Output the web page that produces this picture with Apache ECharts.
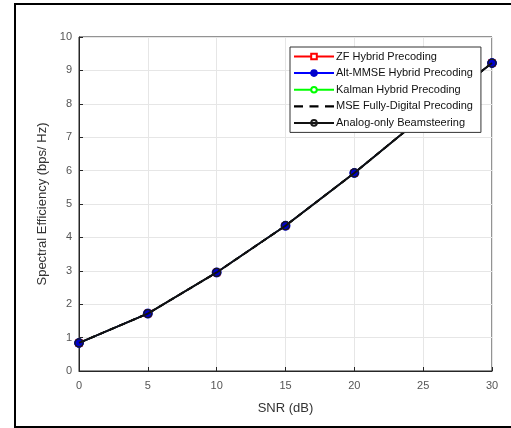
<!DOCTYPE html>
<html><head><meta charset="utf-8">
<script src="https://cdn.jsdelivr.net/npm/echarts@6/dist/echarts.min.js"></script>
<style>html,body{margin:0;padding:0;background:#fff}#c{width:511px;height:428px}</style>
</head><body><div id="c"></div>
<script>
const snr = [0, 5, 10, 15, 20, 25, 30];
const zfHybrid = [0.84, 1.72, 2.95, 4.35, 5.93, 7.62, 9.22];
const altMmseHybrid = [0.84, 1.72, 2.95, 4.35, 5.93, 7.62, 9.22];
const kalmanHybrid = [0.84, 1.72, 2.95, 4.35, 5.93, 7.62, 9.22];
const mseFullyDigital = [0.84, 1.72, 2.95, 4.35, 5.93, 7.62, 9.22];
const analogOnly = [0.84, 1.72, 2.95, 4.35, 5.93, 7.62, 9.22];
const xTicks = [0, 5, 10, 15, 20, 25, 30];
const yTicks = [0, 1, 2, 3, 4, 5, 6, 7, 8, 9, 10];

const pair = arr => snr.map((x, i) => [x, arr[i]]);
const font = 'Liberation Sans, Arial, sans-serif';
const axisCol = '#262626';
const chart = echarts.init(document.getElementById('c'));
chart.setOption({
  animation: false,
  backgroundColor: '#fff',
  graphic: [{
    type: 'rect', shape: {x: 15, y: 4, width: 520, height: 423},
    style: {fill: 'none', stroke: '#000', lineWidth: 2}, z: 100
  }],
  grid: {left: 79, right: 19, top: 37, bottom: 57, show: true, borderColor: axisCol, borderWidth: 1},
  xAxis: {
    type: 'value', min: 0, max: 30, interval: 5,
    name: 'SNR (dB)', nameLocation: 'middle', nameGap: 31,
    nameTextStyle: {fontFamily: font, fontSize: 13, color: '#333'},
    axisLine: {lineStyle: {color: axisCol}},
    axisTick: {inside: true, length: 4, lineStyle: {color: axisCol}},
    axisLabel: {fontFamily: font, fontSize: 11, color: '#555', margin: 9,
      formatter: v => xTicks.includes(v) ? String(v) : ''},
    splitLine: {show: true, lineStyle: {color: '#e6e6e6'}}
  },
  yAxis: {
    type: 'value', min: 0, max: 10, interval: 1,
    name: 'Spectral Efficiency (bps/ Hz)', nameLocation: 'middle', nameGap: 20,
    nameTextStyle: {fontFamily: font, fontSize: 13, color: '#333'},
    axisLine: {show: true, lineStyle: {color: axisCol}},
    axisTick: {show: true, inside: true, length: 4, lineStyle: {color: axisCol}},
    axisLabel: {fontFamily: font, fontSize: 11, color: '#555', margin: 7,
      formatter: v => yTicks.includes(v) ? String(v) : ''},
    splitLine: {show: true, lineStyle: {color: '#e6e6e6'}}
  },
  legend: {
    orient: 'vertical', left: 290, top: 47, z: 20,
    backgroundColor: '#fff', borderColor: '#333', borderWidth: 1,
    padding: [4, 8, 4, 3], itemGap: 5.6, itemWidth: 40, itemHeight: 7,
    textStyle: {fontFamily: font, fontSize: 11, color: '#111', padding: [0, 0, 0, -3]},
    data: ['ZF Hybrid Precoding', 'Alt-MMSE Hybrid Precoding', 'Kalman Hybrid Precoding',
           {name: 'MSE Fully-Digital Precoding',
            icon: 'path://M0,2.5h9v2.2h-9z M15.5,2.5h9v2.2h-9z M31,2.5h9v2.2h-9z'},
           'Analog-only Beamsteering']
  },
  series: [
    {name: 'ZF Hybrid Precoding', type: 'line', data: pair(zfHybrid), z: 2,
     symbol: 'rect', symbolSize: 6, itemStyle: {color: '#fff', borderColor: '#ff0000', borderWidth: 1.5},
     lineStyle: {color: '#ff0000', width: 1.5}},
    {name: 'Alt-MMSE Hybrid Precoding', type: 'line', data: pair(altMmseHybrid), z: 3,
     symbol: 'circle', symbolSize: 9, itemStyle: {color: '#0000cc', borderColor: '#0000cc', borderWidth: 1},
     lineStyle: {color: '#0000ff', width: 1.5}},
    {name: 'Kalman Hybrid Precoding', type: 'line', data: pair(kalmanHybrid), z: 2,
     symbol: 'circle', symbolSize: 7, itemStyle: {color: '#fff', borderColor: '#00ff00', borderWidth: 1.5},
     lineStyle: {color: '#00ff00', width: 1.5}},
    {name: 'MSE Fully-Digital Precoding', type: 'line', data: pair(mseFullyDigital), z: 3,
     symbol: 'none', itemStyle: {color: '#000'},
     lineStyle: {color: '#000', width: 2, type: [6, 5]}},
    {name: 'Analog-only Beamsteering', type: 'line', data: pair(analogOnly), z: 4,
     symbol: 'circle', symbolSize: 8, itemStyle: {color: 'rgba(0,0,0,0)', borderColor: '#1a1a1a', borderWidth: 1.2},
     lineStyle: {color: '#111', width: 2}}
  ]
});
</script></body></html>
